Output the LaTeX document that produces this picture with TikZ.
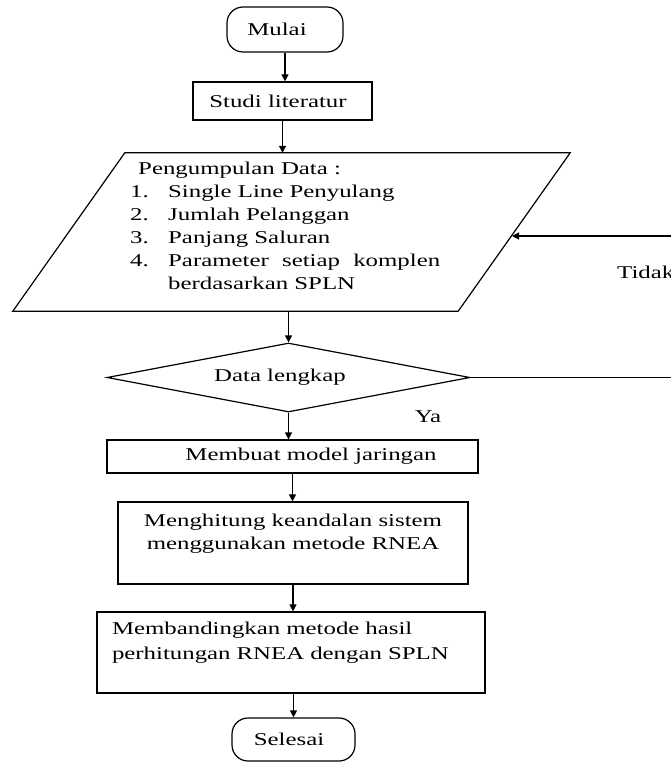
\documentclass[tikz,border=0pt]{standalone}
\usepackage{fontspec}
\setmainfont[FakeStretch=1.38]{Liberation Serif}
\usetikzlibrary{shapes.geometric,arrows.meta}
\tikzset{
  ln/.style={line width=1.2pt},
  box/.style={ln, draw, rectangle, inner sep=0pt},
  term/.style={ln, draw, rectangle, rounded corners=16pt, inner sep=0pt},
  arr/.style={ln, -{Triangle[length=7pt,width=7pt]}},
}
\begin{document}
\begin{tikzpicture}[x=1pt,y=-1pt,font=\fontsize{18}{23}\selectfont]
\useasboundingbox (0,0) rectangle (671,762);

\node[term, minimum width=116pt, minimum height=45pt] (mulai) at (285,29.5) {Mulai\hspace*{16pt}};
\node[box, minimum width=179pt, minimum height=38pt] (studi) at (282.5,101) {Studi literatur\hspace*{9pt}};

% parallelogram body
\node[rectangle, inner sep=0pt, minimum width=333pt, minimum height=158pt] (data) at (291.5,232) {};
\draw[ln, line join=miter] (data.north west) -- ([xshift=112pt]data.north east) -- (data.south east) -- ([xshift=-112pt]data.south west) -- cycle;
\node[anchor=base west, inner sep=0pt] (datatxt) at (130,175) {%
\begin{tabular}[t]{@{}l@{}l@{}}
\multicolumn{2}{@{}l@{}}{\hspace*{8pt}Pengumpulan Data :}\\
\makebox[38pt][l]{1.} & Single Line Penyulang\\
\makebox[38pt][l]{2.} & Jumlah Pelanggan\\
\makebox[38pt][l]{3.} & Panjang Saluran\\
\makebox[38pt][l]{4.} & \makebox[272pt][s]{Parameter\hfil setiap\hfil komplen}\\
 & berdasarkan SPLN
\end{tabular}};

\node[ln, draw, diamond, aspect=5.26, inner sep=0pt, minimum width=363pt, minimum height=69pt] (dec) at (288.5,377.5) {\raisebox{2pt}{Data lengkap}\hspace*{17pt}};
\node[inner sep=0pt] (ya) at (428,417) {Ya};

\node[box, minimum width=371pt, minimum height=33pt] (membuat) at (292.5,456.5) {\hspace*{37pt}Membuat model jaringan};
\node[box, minimum width=350pt, minimum height=82pt, align=center] (hitung) at (293,543) {Menghitung keandalan sistem\\menggunakan metode RNEA\\\mbox{}};
\node[box, text width=358pt, inner xsep=15pt, inner ysep=0pt, minimum height=81pt, align=left] (banding) at (291,652.5) {Membandingkan metode hasil\\[2pt]perhitungan RNEA dengan SPLN\\\mbox{}};
\node[term, minimum width=123pt, minimum height=43pt] (selesai) at (293.5,739.5) {Selesai\hspace*{9pt}};

\node[anchor=west, inner sep=0pt] (tidak) at (617,272) {Tidak};

\coordinate (loopc) at (673,236);
\coordinate (pR) at (512,236);

\draw[arr] (mulai.south) -- (mulai.south |- studi.north);
\draw[arr] (studi.south) -- (studi.south |- data.north);
\draw[arr] (dec.north |- data.south) -- (dec.north);
\draw[arr] (dec.south) -- (dec.south |- membuat.north);
\draw[arr] (membuat.south) -- (membuat.south |- hitung.north);
\draw[arr] (hitung.south) -- (hitung.south |- banding.north);
\draw[arr] (selesai.north |- banding.south) -- (selesai.north);
\draw[arr] (dec.east) -| (loopc) -- (pR);
\end{tikzpicture}
\end{document}
